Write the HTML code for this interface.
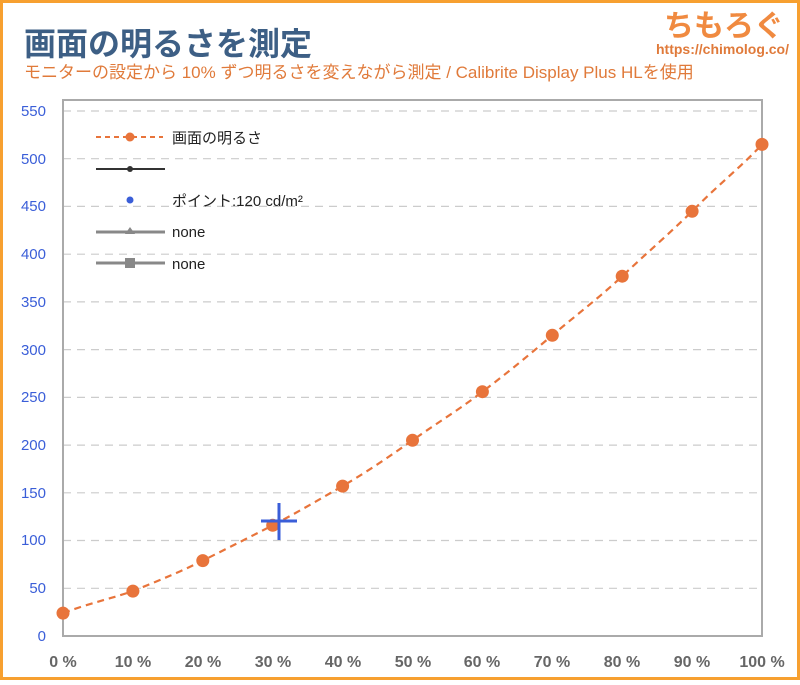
<!DOCTYPE html>
<html><head><meta charset="utf-8"><style>
body{margin:0;width:800px;height:680px;overflow:hidden;background:#fff}
</style></head><body>
<svg width="800" height="680" xmlns="http://www.w3.org/2000/svg" font-family="'Liberation Sans','Noto Sans CJK JP',sans-serif">
<rect x="1.5" y="1.5" width="797" height="677" fill="#fff" stroke="#f7a030" stroke-width="3"/>
<text x="24" y="55" font-size="32" font-weight="bold" fill="#3d5f85">画面の明るさを測定</text>
<text x="24" y="78" font-size="17" fill="#e07a3a">モニターの設定から 10% ずつ明るさを変えながら測定 / Calibrite Display Plus HLを使用</text>
<text x="664" y="36" font-size="30" font-weight="bold" fill="#f08a40">ちもろぐ</text>
<text x="656" y="54" font-size="14" font-weight="bold" fill="#e07a3a" font-family="'Liberation Sans Narrow','Liberation Sans',sans-serif">https://chimolog.co/</text>
<g stroke="#ccc" stroke-dasharray="8,6" stroke-width="1.2">
<line x1="63" x2="762" y1="588.3" y2="588.3"/><line x1="63" x2="762" y1="540.5" y2="540.5"/><line x1="63" x2="762" y1="492.8" y2="492.8"/><line x1="63" x2="762" y1="445.1" y2="445.1"/><line x1="63" x2="762" y1="397.4" y2="397.4"/><line x1="63" x2="762" y1="349.6" y2="349.6"/><line x1="63" x2="762" y1="301.9" y2="301.9"/><line x1="63" x2="762" y1="254.2" y2="254.2"/><line x1="63" x2="762" y1="206.4" y2="206.4"/><line x1="63" x2="762" y1="158.7" y2="158.7"/><line x1="63" x2="762" y1="111" y2="111"/>
</g>
<rect x="63" y="100" width="699" height="536" fill="none" stroke="#aaa" stroke-width="2"/>
<g font-size="15" fill="#3a5ed8" text-anchor="end">
<text x="46" y="641">0</text><text x="46" y="593">50</text><text x="46" y="545">100</text><text x="46" y="498">150</text><text x="46" y="450">200</text><text x="46" y="402">250</text><text x="46" y="355">300</text><text x="46" y="307">350</text><text x="46" y="259">400</text><text x="46" y="211">450</text><text x="46" y="164">500</text><text x="46" y="116">550</text>
</g>
<g font-size="16" font-weight="bold" fill="#666" text-anchor="middle" font-family="'Liberation Sans Narrow','Liberation Sans',sans-serif">
<text x="63" y="667">0 %</text><text x="133" y="667">10 %</text><text x="203" y="667">20 %</text><text x="273" y="667">30 %</text><text x="343" y="667">40 %</text><text x="413" y="667">50 %</text><text x="482" y="667">60 %</text><text x="552" y="667">70 %</text><text x="622" y="667">80 %</text><text x="692" y="667">90 %</text><text x="762" y="667">100 %</text>
</g>
<path d="M63,613.1 C90,603 110,599 132.9,591.1 C160,580 180,572 202.8,560.6 C230,547 250,537 272.7,525.3 C300,511 320,499 342.6,486.1 C370,470 390,456 412.5,440.3 C440,421 460,409 482.4,391.7 C510,371 530,354 552.3,335.3 C580,312 600,297 622.2,276.2 C650,250 670,233 692.1,211.3 C720,183 740,168 762,144.4" fill="none" stroke="#e8743b" stroke-width="2.2" stroke-dasharray="7,5"/>
<g fill="#e8743b">
<circle cx="63" cy="613.1" r="6.5"/><circle cx="132.9" cy="591.1" r="6.5"/><circle cx="202.8" cy="560.6" r="6.5"/><circle cx="272.7" cy="525.3" r="6.5"/><circle cx="342.6" cy="486.1" r="6.5"/><circle cx="412.5" cy="440.3" r="6.5"/><circle cx="482.4" cy="391.7" r="6.5"/><circle cx="552.3" cy="335.3" r="6.5"/><circle cx="622.2" cy="276.2" r="6.5"/><circle cx="692.1" cy="211.3" r="6.5"/><circle cx="762" cy="144.4" r="6.5"/>
</g>
<g stroke="#3a5ed8" stroke-width="3"><line x1="261" x2="297" y1="521" y2="521"/><line x1="279" x2="279" y1="503" y2="540"/></g>
<g font-size="15" fill="#222">
<line x1="96" x2="163" y1="137" y2="137" stroke="#e8743b" stroke-width="2" stroke-dasharray="5,4"/><circle cx="130" cy="137" r="4.5" fill="#e8743b"/>
<text x="172" y="143">画面の明るさ</text>
<line x1="96" x2="165" y1="169" y2="169" stroke="#333" stroke-width="2"/><circle cx="130" cy="169" r="3" fill="#333"/>
<circle cx="130" cy="200" r="3.5" fill="#3a5ed8"/>
<text x="172" y="206">ポイント:120 cd/m²</text>
<line x1="96" x2="165" y1="232" y2="232" stroke="#888" stroke-width="3"/><polygon points="130,227 135,234 125,234" fill="#888"/>
<text x="172" y="237">none</text>
<line x1="96" x2="165" y1="263" y2="263" stroke="#888" stroke-width="3"/><rect x="125" y="258" width="10" height="10" fill="#888"/>
<text x="172" y="269">none</text>
</g>
</svg>
</body></html>
